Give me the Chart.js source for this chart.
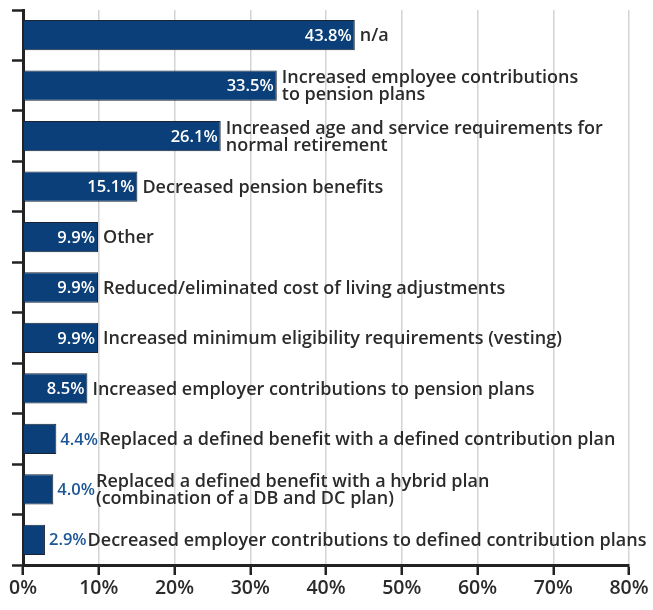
<!DOCTYPE html>
<html>
<head>
<meta charset="utf-8">
<script src="https://cdn.jsdelivr.net/npm/chart.js@4"></script>
<style>
  html, body { margin: 0; padding: 0; background: #fff; }
  #wrap { width: 653px; height: 610px; }
</style>
</head>
<body>
<div id="wrap"><canvas id="changesChart" width="653" height="610"></canvas></div>
<script>
// Plan changes and share of respondents
const categories = [
  ["n/a"],
  ["Increased employee contributions", "to pension plans"],
  ["Increased age and service requirements for", "normal retirement"],
  ["Decreased pension benefits"],
  ["Other"],
  ["Reduced/eliminated cost of living adjustments"],
  ["Increased minimum eligibility requirements (vesting)"],
  ["Increased employer contributions to pension plans"],
  ["Replaced a defined benefit with a defined contribution plan"],
  ["Replaced a defined benefit with a hybrid plan", "(combination of a DB and DC plan)"],
  ["Decreased employer contributions to defined contribution plans"]
];
const values = [43.8, 33.5, 26.1, 15.1, 9.9, 9.9, 9.9, 8.5, 4.4, 4.0, 2.9];
const xTicks = [0, 10, 20, 30, 40, 50, 60, 70, 80];

const FONT = "'Open Sans', 'Noto Sans', sans-serif";
const TEXT = "#2b2b2b";

// draws value + category text next to each bar
const barText = {
  id: "barText",
  afterDatasetsDraw(chart) {
    const ctx = chart.ctx;
    const meta = chart.getDatasetMeta(0);
    ctx.save();
    ctx.textBaseline = "middle";
    meta.data.forEach((bar, i) => {
      const v = values[i];
      const label = v.toFixed(1) + "%";
      ctx.font = "600 16.5px " + FONT;
      const w = ctx.measureText(label).width;
      let textX;
      if (bar.x - bar.base > w + 8) {
        ctx.fillStyle = "#ffffff";
        ctx.textAlign = "right";
        ctx.fillText(label, bar.x - 3, bar.y + 1);
        textX = bar.x + 5;
      } else {
        ctx.fillStyle = "#1d5797";
        ctx.textAlign = "left";
        ctx.fillText(label, bar.x + 4, bar.y + 1);
        textX = bar.x + 4 + w + 1;
      }
      const lines = categories[i];
      const lh = 17;
      ctx.font = "600 18px " + FONT;
      ctx.fillStyle = TEXT;
      ctx.textAlign = "left";
      lines.forEach((ln, k) => {
        const y = bar.y + 1 + (k - (lines.length - 1) / 2) * lh;
        ctx.fillText(ln, textX, y);
      });
    });
    ctx.restore();
  }
};

new Chart(document.getElementById("changesChart"), {
  type: "bar",
  data: {
    labels: categories.map(c => c.join(" ")),
    datasets: [{
      data: values,
      backgroundColor: "#0b3f79",
      borderColor: "#1c2433",
      borderWidth: 1,
      barPercentage: 0.6,
      categoryPercentage: 1
    }]
  },
  options: {
    indexAxis: "y",
    responsive: false,
    animation: false,
    layout: { padding: { top: 10, right: 24, left: 0, bottom: 0 } },
    plugins: {
      legend: { display: false },
      tooltip: { enabled: false }
    },
    scales: {
      x: {
        min: 0,
        max: 80,
        afterBuildTicks(scale) {
          scale.ticks = xTicks.map(v => ({ value: v }));
        },
        afterFit(scale) { scale.height = 45; },
        border: { color: "#222", width: 3 },
        grid: {
          color: "#d4d4d4",
          lineWidth: 1.5,
          tickColor: "#222",
          tickLength: 10,
          tickWidth: 2.5
        },
        ticks: {
          color: TEXT,
          font: { family: FONT, size: 19.5, weight: "600" },
          padding: 2,
          callback: v => v + "%"
        }
      },
      y: {
        afterFit(scale) { scale.width = 23; },
        border: { color: "#222", width: 3 },
        grid: {
          offset: true,
          drawOnChartArea: false,
          tickColor: "#222",
          tickLength: 11,
          tickWidth: 2.5
        },
        ticks: { display: false }
      }
    }
  },
  plugins: [barText]
});
</script>
</body>
</html>
